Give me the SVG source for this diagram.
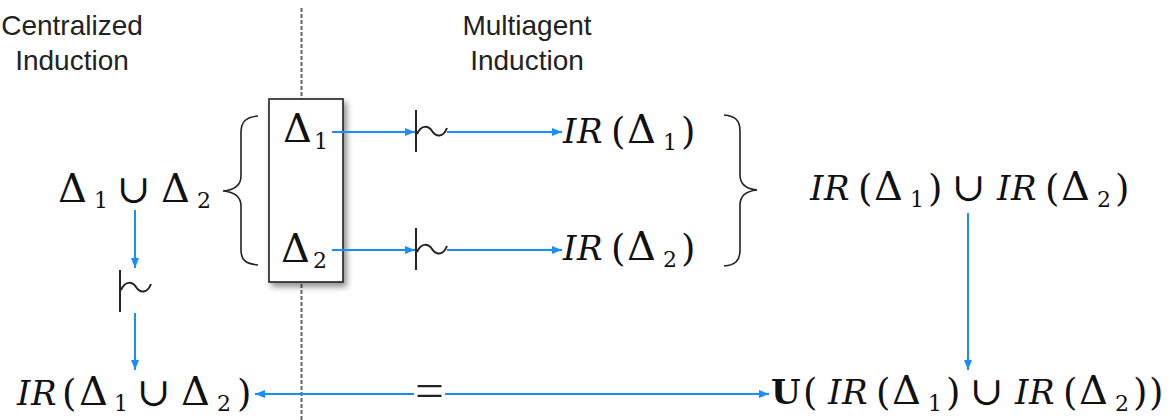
<svg xmlns="http://www.w3.org/2000/svg" width="1170" height="420" viewBox="0 0 1170 420">
  <style>
    .label { font-family: "Liberation Sans", Arial, sans-serif; font-size: 28px; fill: #222; text-anchor: middle; }
    .math { font-family: "DejaVu Serif", "Liberation Serif", serif; font-size: 34px; fill: #111; }
    .it { font-style: italic; }
    .bf { font-weight: bold; }
    .d { font-size: 40px; }
    .p { font-size: 37px; }
    .cup { font-size: 40px; }
    .sub { font-size: 22px; }
    .conn { stroke: #1a8cff; stroke-width: 2; fill: none; }
    .sym { stroke: #222; stroke-width: 2; fill: none; }
    .brace { stroke: #222; stroke-width: 1.6; fill: none; }
    .divider { stroke: #666; stroke-width: 2; stroke-dasharray: 4 2; }
  </style>
  <defs>
    <marker id="arrow" viewBox="0 0 10 8" refX="10" refY="4" markerWidth="10" markerHeight="8" markerUnits="userSpaceOnUse" orient="auto-start-reverse">
      <path d="M0,0 L10,4 L0,8 z" fill="#1a8cff"/>
    </marker>
    <filter id="shadow" x="-30%" y="-10%" width="160%" height="125%">
      <feDropShadow dx="3" dy="4" stdDeviation="3" flood-color="#000" flood-opacity="0.45"/>
    </filter>
  </defs>

  <rect width="1170" height="420" fill="#fff"/>

  <!-- section headings -->
  <g id="heading-centralized">
    <text class="label" x="72" y="35">Centralized</text>
    <text class="label" x="72" y="70">Induction</text>
  </g>
  <g id="heading-multiagent">
    <text class="label" x="527" y="35">Multiagent</text>
    <text class="label" x="527" y="70">Induction</text>
  </g>

  <!-- divider between the two approaches -->
  <line id="divider" class="divider" x1="301.5" y1="8" x2="301.5" y2="420"/>

  <!-- partition box holding the two datasets -->
  <g id="partition">
    <rect x="269" y="99" width="74" height="183" fill="#fff" stroke="#222" stroke-width="1.6" filter="url(#shadow)"/>
    <text class="math"><tspan class="d" x="283" y="142">Δ</tspan><tspan class="sub" x="314" y="149">1</tspan></text>
    <text class="math"><tspan class="d" x="281" y="262">Δ</tspan><tspan class="sub" x="313" y="268">2</tspan></text>
  </g>

  <!-- union of datasets -->
  <g id="union-data">
    <text class="math"><tspan class="d" x="58" y="202">Δ</tspan><tspan class="sub" x="94" y="208">1</tspan><tspan class="cup" x="117" y="203">∪</tspan><tspan class="d" x="161" y="202">Δ</tspan><tspan class="sub" x="197" y="208">2</tspan></text>
    <path class="brace" d="M258,116 C247,117 241,121 241,132 L241,176 C241,186 234,190 223,191 C234,192 241,196 241,206 L241,250 C241,261 247,264 258,265"/>
  </g>

  <!-- individual induction results -->
  <g id="ir1">
    <text class="math"><tspan class="it" x="563" y="143">I</tspan><tspan class="it" x="577" y="143">R</tspan><tspan class="p" x="611" y="144">(</tspan><tspan class="d" x="627" y="143">Δ</tspan><tspan class="sub" x="663" y="150">1</tspan><tspan class="p" x="681" y="144">)</tspan></text>
  </g>
  <g id="ir2">
    <text class="math"><tspan class="it" x="563" y="260">I</tspan><tspan class="it" x="577" y="260">R</tspan><tspan class="p" x="611" y="261">(</tspan><tspan class="d" x="627" y="260">Δ</tspan><tspan class="sub" x="663" y="267">2</tspan><tspan class="p" x="681" y="261">)</tspan></text>
  </g>
  <path id="brace-right" class="brace" d="M724,115 C735,116 740,120 740,131 L740,175 C740,185 747,189 757,190 C747,191 740,195 740,205 L740,250 C740,261 735,265 724,266"/>

  <!-- union of induction results -->
  <g id="ir-union">
    <text class="math"><tspan class="it" x="810" y="200">I</tspan><tspan class="it" x="824" y="200">R</tspan><tspan class="p" x="858" y="201">(</tspan><tspan class="d" x="874" y="200">Δ</tspan><tspan class="sub" x="910" y="207">1</tspan><tspan class="p" x="928" y="201">)</tspan><tspan class="cup" x="952" y="201">∪</tspan><tspan class="it" x="997" y="200">I</tspan><tspan class="it" x="1011" y="200">R</tspan><tspan class="p" x="1045" y="201">(</tspan><tspan class="d" x="1061" y="200">Δ</tspan><tspan class="sub" x="1097" y="207">2</tspan><tspan class="p" x="1115" y="201">)</tspan></text>
  </g>

  <!-- centralized result -->
  <g id="ir-central">
    <text class="math"><tspan class="it" x="17" y="405">I</tspan><tspan class="it" x="31" y="405">R</tspan><tspan class="p" x="62" y="406">(</tspan><tspan class="d" x="79" y="405">Δ</tspan><tspan class="sub" x="114" y="411">1</tspan><tspan class="cup" x="137" y="406">∪</tspan><tspan class="d" x="181" y="405">Δ</tspan><tspan class="sub" x="217" y="411">2</tspan><tspan class="p" x="237" y="406">)</tspan></text>
  </g>

  <!-- unified result -->
  <g id="ir-unified">
    <text class="math"><tspan class="bf" x="771" y="404">U</tspan><tspan class="p" x="803" y="405">(</tspan><tspan class="it" x="828" y="404">I</tspan><tspan class="it" x="842" y="404">R</tspan><tspan class="p" x="876" y="405">(</tspan><tspan class="d" x="892" y="404">Δ</tspan><tspan class="sub" x="928" y="411">1</tspan><tspan class="p" x="946" y="405">)</tspan><tspan class="cup" x="970" y="405">∪</tspan><tspan class="it" x="1015" y="404">I</tspan><tspan class="it" x="1029" y="404">R</tspan><tspan class="p" x="1063" y="405">(</tspan><tspan class="d" x="1079" y="404">Δ</tspan><tspan class="sub" x="1115" y="411">2</tspan><tspan class="p" x="1133" y="405">)</tspan><tspan class="p" x="1149" y="405">)</tspan></text>
  </g>

  <!-- induction operators -->
  <g id="induce-1">
    <line class="sym" x1="416" y1="110" x2="416" y2="152"/>
    <path class="sym" d="M417,134 C421,125 428,125 432,131 C436,137 443,138 447,128"/>
  </g>
  <g id="induce-2">
    <line class="sym" x1="416" y1="228" x2="416" y2="270"/>
    <path class="sym" d="M417,252 C421,243 428,243 432,249 C436,255 443,256 447,246"/>
  </g>
  <g id="induce-central">
    <line class="sym" x1="120" y1="270" x2="120" y2="312"/>
    <path class="sym" d="M121,290 C125,281 132,281 136,287 C140,293 147,294 151,284"/>
  </g>

  <!-- equivalence sign -->
  <g id="equals">
    <text x="415" y="406" textLength="29" lengthAdjust="spacingAndGlyphs" style="font-family:'Liberation Serif',serif;font-size:46px;fill:#222">=</text>
  </g>

  <!-- connectors -->
  <g id="connectors">
    <path class="conn" d="M332,132 H415" marker-end="url(#arrow)"/>
    <path class="conn" d="M447,132 H562" marker-end="url(#arrow)"/>
    <path class="conn" d="M332,250 H415" marker-end="url(#arrow)"/>
    <path class="conn" d="M447,250 H562" marker-end="url(#arrow)"/>
    <path class="conn" d="M135,210 V268" marker-end="url(#arrow)"/>
    <path class="conn" d="M135,313 V370" marker-end="url(#arrow)"/>
    <path class="conn" d="M968,213 V370" marker-end="url(#arrow)"/>
    <path class="conn" d="M255,394 H414" marker-start="url(#arrow)"/>
    <path class="conn" d="M445,394 H769" marker-end="url(#arrow)"/>
  </g>
</svg>
